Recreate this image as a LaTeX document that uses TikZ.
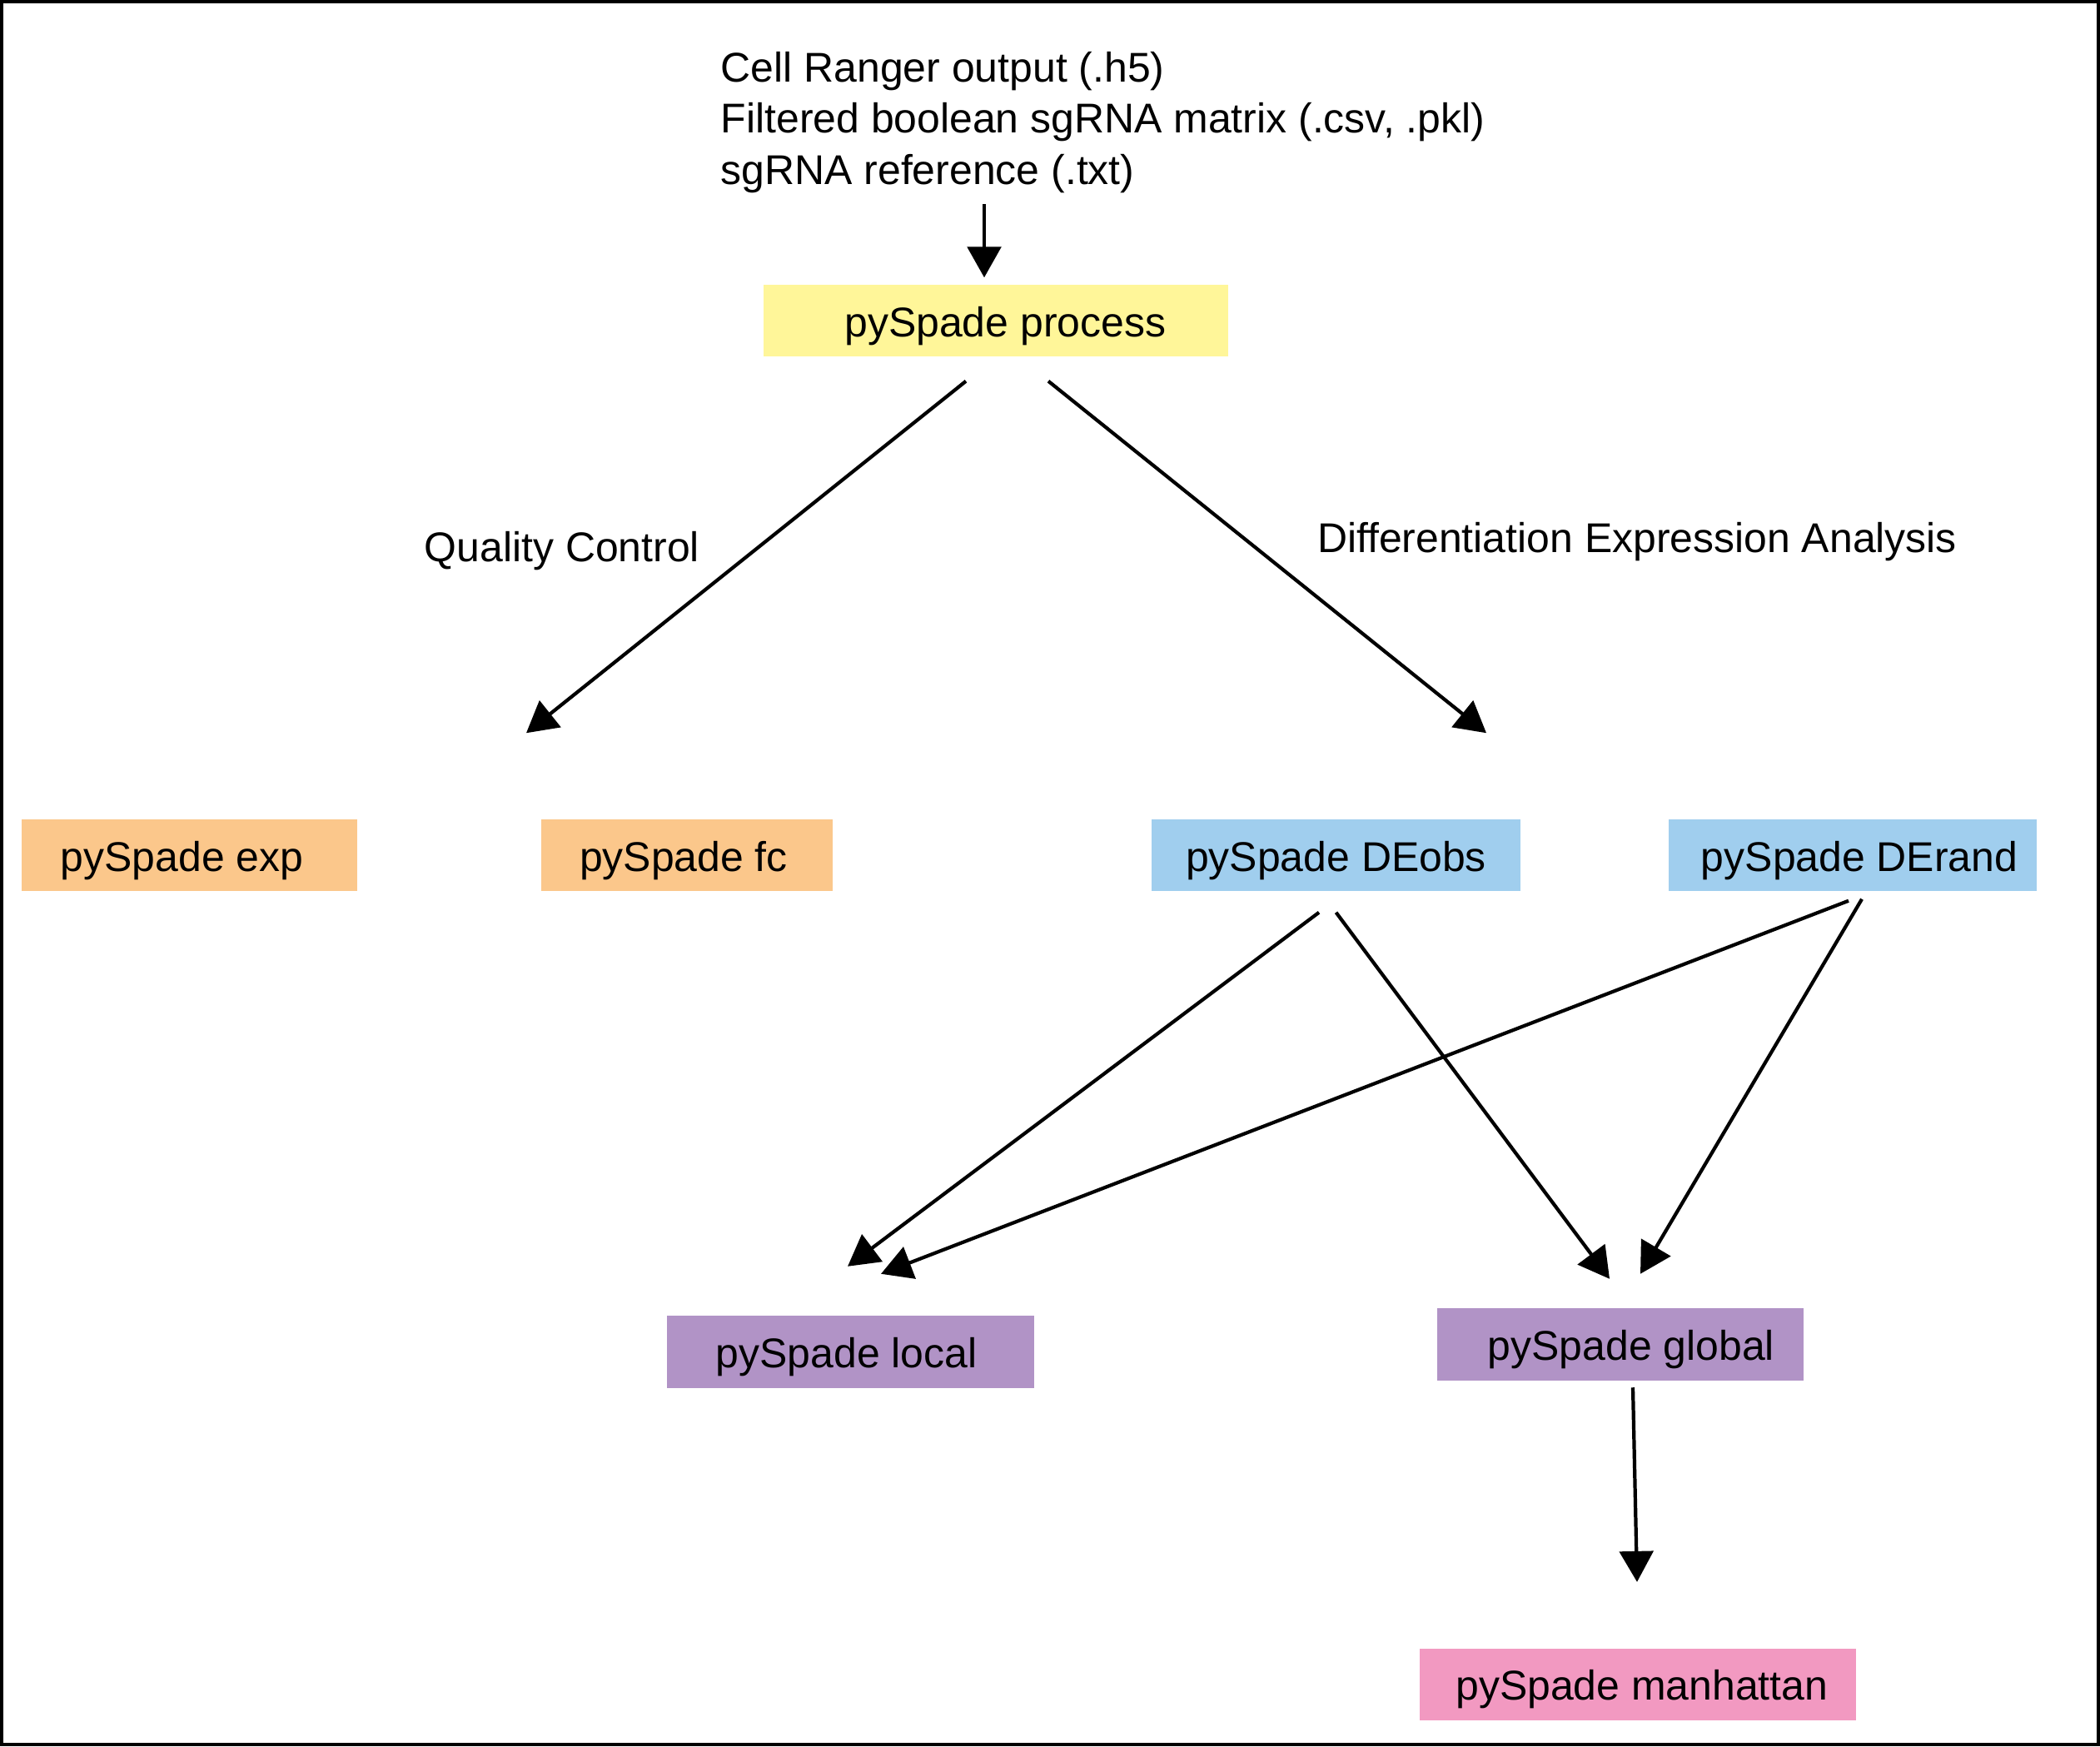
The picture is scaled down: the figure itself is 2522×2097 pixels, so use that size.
\documentclass[tikz,border=0pt]{standalone}
\usepackage{fontspec}
\setmainfont{Liberation Sans}
\usepackage{tikz}
\usetikzlibrary{positioning,calc,arrows.meta}
\definecolor{procyellow}{RGB}{255,246,153}
\definecolor{qcorange}{RGB}{251,199,139}
\definecolor{deblue}{RGB}{160,206,238}
\definecolor{respurple}{RGB}{177,147,198}
\definecolor{plotpink}{RGB}{242,153,193}
\tikzstyle{novertex} = [draw=none, fill=none, inner sep=0pt]
\tikzstyle{box} = [rectangle, draw=none, text centered, inner sep=0pt, minimum height=0.86cm, text height=13pt, text depth=2pt]
\tikzstyle{proc} = [box, fill=procyellow]
\tikzstyle{qc} = [box, fill=qcorange]
\tikzstyle{de} = [box, fill=deblue]
\tikzstyle{res} = [box, fill=respurple]
\tikzstyle{plot} = [box, fill=plotpink]
\tikzstyle{edge} = [draw, line width=1.2pt, -{Triangle[length=10.5pt,width=11.5pt]}]

\begin{document}
\begin{tikzpicture}[x=0.01cm, y=-0.01cm, font=\fontsize{14.2pt}{17.4pt}\selectfont]
	\useasboundingbox (0,0) rectangle (2522,2097);
	\draw [line width=1.1pt] (2,2) rectangle (2520,2095);

	% input files
	\node [novertex, align=left, anchor=west] (N0) at (865,147)
		{Cell Ranger output (.h5)\\Filtered boolean sgRNA matrix (.csv, .pkl)\\sgRNA reference (.txt)};

	% place nodes
	\node [proc, minimum width=5.58cm] (N1) at (1196,385) {\hspace{6.4pt}pySpade process};
	\node [qc, minimum width=4.03cm]   (N2) at (227.5,1027) {pySpade exp\hspace*{5pt}};
	\node [qc, minimum width=3.50cm]   (N3) at (825,1027) {pySpade fc\hspace*{2.3pt}};
	\node [de, minimum width=4.43cm]   (N4) at (1604.5,1027) {pySpade DEobs};
	\node [de, minimum width=4.42cm]   (N5) at (2225,1027) {\hspace{4.6pt}pySpade DErand};
	\node [res, minimum width=4.41cm]  (N6) at (1021.5,1623.5) {pySpade local\hspace*{2.7pt}};
	\node [res, minimum width=4.40cm]  (N7) at (1946,1614.5) {\hspace{7.3pt}pySpade global};
	\node [plot, minimum width=5.24cm] (N8) at (1967,2022.5) {\hspace{2.7pt}pySpade manhattan};

	% edge labels
	\node [novertex] (L1) at (675,662) {Quality Control};
	\node [novertex] (L2) at (1966,651) {Differentiation Expression Analysis};

	% draw edges
	\path [edge] ($(N1.north)+(-14,-96)$) -- ($(N1.north)+(-14,-8)$);
	\path [edge] ($(N1.south)+(-36,29)$) -- ($(N3.north)+(-193,-103)$);
	\path [edge] ($(N1.south)+(63,29)$) -- ($(N4.north)+(180.5,-103)$);
	\path [edge] ($(N4.south)+(-20.5,25)$) -- ($(N6.north)+(-3.5,-59)$);
	\path [edge] ($(N4.south)+(0,25)$) -- ($(N7.north)+(-13,-35)$);
	\path [edge] ($(N5.south)+(-5,11)$) -- ($(N6.north)+(36.5,-50)$);
	\path [edge] ($(N5.south)+(11,9)$) -- ($(N7.north)+(24,-41)$);
	\path [edge] ($(N7.south)+(15,8)$) -- ($(N8.north)+(-1,-79)$);
\end{tikzpicture}
\end{document}
